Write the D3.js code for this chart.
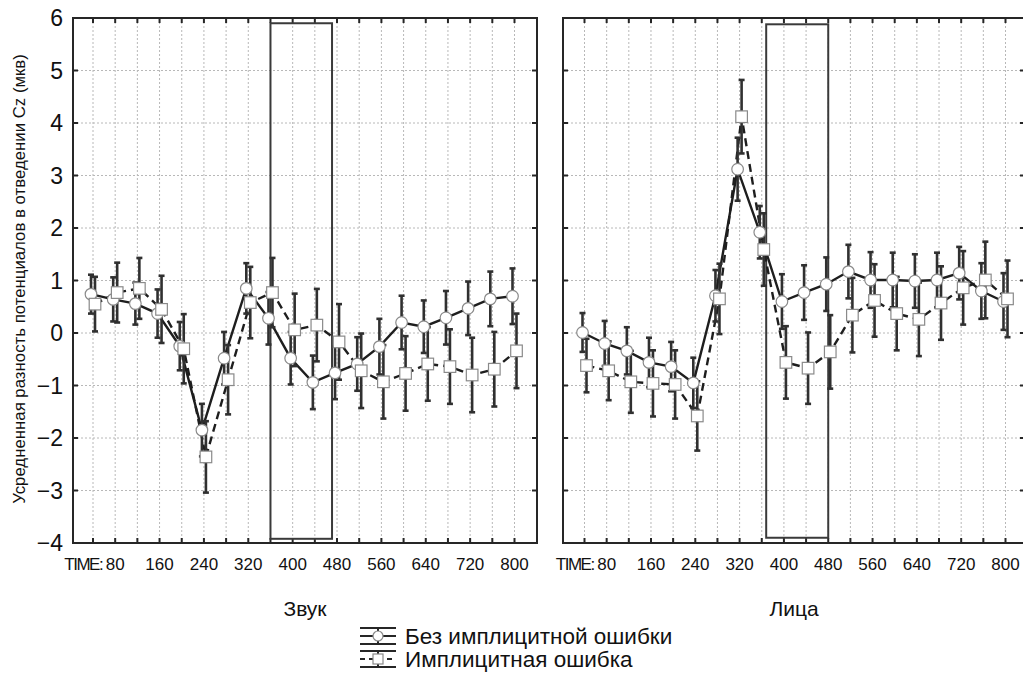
<!DOCTYPE html>
<html><head><meta charset="utf-8">
<script src="https://cdn.jsdelivr.net/npm/d3@7"></script>
<style>body{margin:0;background:#fff}svg{display:block;font-family:"Liberation Sans",Arial,sans-serif}</style>
</head><body><svg id="c" width="1023" height="676"></svg>
<script>
const times = [40,80,120,160,200,240,280,320,360,400,440,480,520,560,600,640,680,720,760,800];
const tickLabels = [80,160,240,320,400,480,560,640,720,800];
const yTicks = [-4,-3,-2,-1,0,1,2,3,4,5,6];
const panelTitles = ["Звук","Лица"];
const seriesNames = ["Без имплицитной ошибки","Имплицитная ошибка"];

// Звук (sound)
const soundNo     = [0.74,0.64,0.56,0.37,-0.25,-1.85,-0.48,0.85,0.28,-0.48,-0.94,-0.76,-0.59,-0.26,0.20,0.12,0.29,0.47,0.65,0.70];
const soundNoErr  = [0.37,0.42,0.40,0.46,0.46,0.50,0.50,0.48,0.50,0.50,0.51,0.50,0.51,0.53,0.51,0.50,0.51,0.51,0.52,0.53];
const soundImp    = [0.55,0.77,0.85,0.45,-0.30,-2.36,-0.89,0.58,0.77,0.06,0.15,-0.17,-0.72,-0.93,-0.77,-0.59,-0.64,-0.80,-0.69,-0.34];
const soundImpErr = [0.52,0.57,0.58,0.64,0.66,0.68,0.66,0.68,0.66,0.69,0.69,0.72,0.71,0.70,0.71,0.70,0.71,0.71,0.71,0.71];
// Лица (faces)
const facesNo     = [0.01,-0.20,-0.34,-0.56,-0.64,-0.95,0.71,3.12,1.92,0.60,0.77,0.93,1.17,1.01,1.01,0.99,1.01,1.14,0.80,0.60];
const facesNoErr  = [0.37,0.43,0.45,0.47,0.47,0.48,0.49,0.60,0.50,0.52,0.52,0.51,0.51,0.53,0.52,0.51,0.52,0.50,0.53,0.54];
const facesImp    = [-0.62,-0.72,-0.93,-0.96,-0.98,-1.58,0.65,4.12,1.59,-0.56,-0.67,-0.36,0.34,0.62,0.37,0.26,0.57,0.86,1.01,0.65];
const facesImpErr = [0.51,0.56,0.59,0.63,0.65,0.66,0.67,0.70,0.69,0.69,0.68,0.70,0.71,0.69,0.70,0.70,0.70,0.70,0.73,0.73];
// highlighted windows (ms, µV)
const soundWindow = [360,471,-3.92,5.9];
const facesWindow = [368,480,-3.9,5.88];

const svg = d3.select("#c");
const y = d3.scaleLinear().domain([-4,6]).range([543,18]);

const panels = [
  {x0:73, x1:537, range:[93,514.5], no:soundNo, noErr:soundNoErr, imp:soundImp, impErr:soundImpErr, win:soundWindow, title:panelTitles[0], yLabels:true},
  {x0:563, x1:1025, range:[584.5,1005.5], no:facesNo, noErr:facesNoErr, imp:facesImp, impErr:facesImpErr, win:facesWindow, title:panelTitles[1], yLabels:false}
];

const dark = "#262626";
panels.forEach(p => {
  const x = d3.scaleLinear().domain([40,800]).range(p.range);
  const g = svg.append("g");
  // grid
  g.selectAll(".vg").data(times).join("line")
    .attr("x1",d=>x(d)).attr("x2",d=>x(d)).attr("y1",y(6)).attr("y2",y(-4))
    .attr("stroke","#b8b8b8").attr("stroke-width",1).attr("stroke-dasharray","2,2");
  g.selectAll(".hg").data(yTicks).join("line")
    .attr("x1",p.x0).attr("x2",p.x1).attr("y1",d=>y(d)).attr("y2",d=>y(d))
    .attr("stroke","#b8b8b8").attr("stroke-width",1).attr("stroke-dasharray","2,2");
  // ticks inward
  const tk = 5;
  g.selectAll(".tt").data(times).join("line")
    .attr("x1",d=>x(d)).attr("x2",d=>x(d)).attr("y1",y(6)).attr("y2",y(6)+tk)
    .attr("stroke",dark).attr("stroke-width",2);
  g.selectAll(".tb").data(times).join("line")
    .attr("x1",d=>x(d)).attr("x2",d=>x(d)).attr("y1",y(-4)).attr("y2",y(-4)-tk)
    .attr("stroke",dark).attr("stroke-width",2);
  g.selectAll(".tl").data(yTicks).join("line")
    .attr("x1",p.x0).attr("x2",p.x0+tk).attr("y1",d=>y(d)).attr("y2",d=>y(d))
    .attr("stroke",dark).attr("stroke-width",2);
  g.selectAll(".tr").data(yTicks).join("line")
    .attr("x1",p.x1).attr("x2",p.x1-tk).attr("y1",d=>y(d)).attr("y2",d=>y(d))
    .attr("stroke",dark).attr("stroke-width",2);
  // frame
  g.append("rect").attr("x",p.x0).attr("y",y(6)).attr("width",p.x1-p.x0).attr("height",y(-4)-y(6))
    .attr("fill","none").attr("stroke",dark).attr("stroke-width",2);
  // window box
  g.append("rect").attr("x",x(p.win[0])).attr("y",y(p.win[3]))
    .attr("width",x(p.win[1])-x(p.win[0])).attr("height",y(p.win[2])-y(p.win[3]))
    .attr("fill","none").attr("stroke","#3a3a3a").attr("stroke-width",2);

  const series = [
    {v:p.no, e:p.noErr, dx:-2, dash:null, marker:"circle"},
    {v:p.imp, e:p.impErr, dx:2, dash:"8,5", marker:"square"}
  ];
  // lines
  series.forEach(s => {
    const line = d3.line().x((d,i)=>x(times[i])+s.dx).y(d=>y(d));
    g.append("path").datum(s.v).attr("d",line).attr("fill","none")
      .attr("stroke","#1e1e1e").attr("stroke-width",2.4)
      .attr("stroke-dasharray",s.dash);
  });
  // error bars
  series.forEach(s => {
    const eb = g.append("g").attr("stroke","#303030").attr("stroke-width",2.6);
    s.v.forEach((v,i)=>{
      const cx = x(times[i])+s.dx;
      eb.append("line").attr("x1",cx).attr("x2",cx).attr("y1",y(v+s.e[i])).attr("y2",y(v-s.e[i]));
      eb.append("line").attr("x1",cx-3).attr("x2",cx+3).attr("y1",y(v+s.e[i])).attr("y2",y(v+s.e[i]));
      eb.append("line").attr("x1",cx-3).attr("x2",cx+3).attr("y1",y(v-s.e[i])).attr("y2",y(v-s.e[i]));
    });
  });
  // markers
  series.forEach(s => {
    if (s.marker==="circle") {
      g.selectAll(null).data(s.v).join("circle")
        .attr("cx",(d,i)=>x(times[i])+s.dx).attr("cy",d=>y(d)).attr("r",5.8)
        .attr("fill","#fff").attr("stroke","#8a8a8a").attr("stroke-width",1.2);
    } else {
      g.selectAll(null).data(s.v).join("rect")
        .attr("x",(d,i)=>x(times[i])+s.dx-5.8).attr("y",d=>y(d)-5.8).attr("width",11.6).attr("height",11.6)
        .attr("fill","#fff").attr("stroke","#8a8a8a").attr("stroke-width",1.2);
    }
  });
  // x tick labels
  g.selectAll(".xl").data(tickLabels).join("text")
    .attr("x",d=>x(d)).attr("y",570).attr("text-anchor","middle")
    .attr("font-size",17).attr("fill","#111").text(d=>d);
  g.append("text").attr("x",x(80)-13).attr("y",570).attr("text-anchor","end")
    .attr("font-size",17).attr("fill","#111").attr("letter-spacing",-1.5).text("TIME:");
  // y tick labels
  if (p.yLabels) {
    g.selectAll(".yl").data(yTicks).join("text")
      .attr("x",63).attr("y",d=>y(d)+8).attr("text-anchor","end")
      .attr("font-size",23).attr("fill","#111").text(d=>d3.format("d")(d));
  }
  // title
  g.append("text").attr("x",(p.x0+p.x1)/2).attr("y",616).attr("text-anchor","middle")
    .attr("font-size",21).attr("fill","#111").text(p.title);
});

// y axis title
svg.append("text").attr("transform","translate(25,279) rotate(-90)").attr("text-anchor","middle")
  .attr("font-size",16.8).attr("fill","#111").text("Усредненная разность потенциалов в отведении Cz (мкв)");

// legend
const leg = svg.append("g");
const legRows = [{name:seriesNames[0], cy:636, dash:null, marker:"circle"},{name:seriesNames[1], cy:659, dash:"5,4", marker:"square"}];
legRows.forEach(r=>{
  const lx0=360, lx1=396, cx=378;
  leg.append("line").attr("x1",lx0).attr("x2",lx1).attr("y1",r.cy-8).attr("y2",r.cy-8).attr("stroke",dark).attr("stroke-width",2);
  leg.append("line").attr("x1",lx0).attr("x2",lx1).attr("y1",r.cy+8).attr("y2",r.cy+8).attr("stroke",dark).attr("stroke-width",2);
  leg.append("line").attr("x1",cx).attr("x2",cx).attr("y1",r.cy-8).attr("y2",r.cy+8).attr("stroke",dark).attr("stroke-width",2);
  leg.append("line").attr("x1",lx0).attr("x2",lx1).attr("y1",r.cy).attr("y2",r.cy).attr("stroke",dark).attr("stroke-width",2).attr("stroke-dasharray",r.dash);
  if (r.marker==="circle") leg.append("circle").attr("cx",cx).attr("cy",r.cy).attr("r",5).attr("fill","#fff").attr("stroke","#8a8a8a").attr("stroke-width",1.2);
  else leg.append("rect").attr("x",cx-5).attr("y",r.cy-5).attr("width",10).attr("height",10).attr("fill","#fff").attr("stroke","#8a8a8a").attr("stroke-width",1.2);
  leg.append("text").attr("x",405).attr("y",r.cy+8).attr("font-size",22.5).attr("fill","#111").text(r.name);
});
</script></body></html>
